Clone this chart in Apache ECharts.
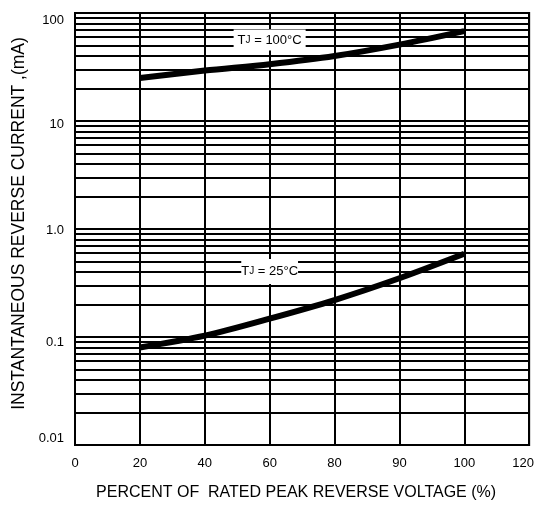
<!DOCTYPE html>
<html>
<head>
<meta charset="utf-8">
<script src="https://cdn.jsdelivr.net/npm/echarts@6/dist/echarts.min.js"></script>
<style>html,body{margin:0;padding:0;background:#fff;}#c{width:537px;height:506px;}</style>
</head>
<body>
<div id="c"></div>
<script>
// ---- data ----
var categories = ['0', '20', '40', '60', '80', '90', '100', '120'];
var tj100 = [null, 25, 29.3, 33.6, 40, 51, 68, null];
var tj25 = [null, 0.080, 0.103, 0.148, 0.22, 0.35, 0.59, null];
var yTickValues = [0.01, 0.1, 1, 10, 100];
var yTickLabels = ['0.01', '0.1', '1.0', '10', '100'];
var minorMultipliers = [2, 3, 4, 5, 6, 7, 8, 9];
var curveLabels = [
  { text: 'T{j|J} = 100°C', at: [2.7, 56.2], padding: [4, 4] },
  { text: 'T{j|J} = 25°C', at: [3.06, 0.405], padding: [6, 0] }
];

var FONT = "'Liberation Sans', Arial, Helvetica, sans-serif";
// vertical nudges of y tick labels (px, + = down)
var yLabelNudge = [-7, 5, 1, 3, 7];
var yRich = {};
yLabelNudge.forEach(function (d, i) {
  yRich['l' + i] = {
    fontFamily: FONT, fontSize: 13, color: '#000',
    padding: d >= 0 ? [2 * d, 0, 0, 0] : [0, 0, -2 * d, 0]
  };
});

var minorLines = [];
yTickValues.slice(0, -1).forEach(function (d) {
  minorMultipliers.forEach(function (m) { minorLines.push({ yAxis: m * d }); });
});

var chart = echarts.init(document.getElementById('c'), null, { renderer: 'canvas' });
var option = {
  animation: false,
  backgroundColor: '#fff',
  grid: { left: 75, right: 6, top: 13, bottom: 61, show: true, borderColor: '#000', borderWidth: 2 },
  xAxis: {
    type: 'category',
    data: categories,
    boundaryGap: false,
    name: 'PERCENT OF  RATED PEAK REVERSE VOLTAGE (%)',
    nameLocation: 'middle',
    nameGap: 40,
    nameTextStyle: { fontFamily: FONT, fontSize: 16, color: '#000', padding: [0, 12, 0, 0] },
    axisLine: { lineStyle: { color: '#000', width: 2 } },
    axisTick: { show: false },
    axisLabel: {
      interval: 0, margin: 12, color: '#000', fontFamily: FONT, fontSize: 13,
      showMinLabel: true, showMaxLabel: true, hideOverlap: false,
      formatter: function (v, i) { return i === categories.length - 1 ? '{r|' + v + '}' : v; },
      rich: { r: { fontFamily: FONT, fontSize: 13, color: '#000', padding: [0, 12, 0, 0] } }
    },
    splitLine: { show: true, interval: 0, lineStyle: { color: '#000', width: 2 } }
  },
  yAxis: {
    type: 'log',
    logBase: 10,
    min: 0.01,
    max: 100,
    interval: 1,
    name: 'INSTANTANEOUS REVERSE CURRENT ,(mA)',
    nameLocation: 'middle',
    nameGap: 46,
    nameTextStyle: { fontFamily: FONT, fontSize: 17.5, color: '#000', padding: [0, 0, 0, 11] },
    axisLine: { show: true, lineStyle: { color: '#000', width: 2 } },
    axisTick: { show: false },
    axisLabel: {
      margin: 11, color: '#000', fontFamily: FONT, fontSize: 13,
      formatter: function (v) {
        var idx = yTickValues.indexOf(Math.pow(10, Math.round(Math.log10(v))));
        return idx >= 0 ? '{l' + idx + '|' + yTickLabels[idx] + '}' : '';
      },
      rich: yRich
    },
    splitLine: { show: true, lineStyle: { color: '#000', width: 2 } }
  },
  series: [
    {
      name: 'grid', type: 'line', data: [], silent: true,
      markLine: {
        silent: true, symbol: 'none', animation: false,
        label: { show: false },
        lineStyle: { color: '#000', width: 2, type: 'solid' },
        data: minorLines
      }
    },
    {
      name: 'TJ = 100°C', type: 'line', data: tj100, smooth: 0.3, showSymbol: false,
      connectNulls: false, lineStyle: { color: '#000', width: 6 }, z: 5
    },
    {
      name: 'TJ = 25°C', type: 'line', data: tj25, smooth: 0.3, showSymbol: false,
      connectNulls: false, lineStyle: { color: '#000', width: 6 }, z: 5
    }
  ]
};
chart.setOption(option);

var gfx = curveLabels.map(function (l) {
  var p = chart.convertToPixel({ gridIndex: 0 }, l.at);
  return {
    type: 'text', x: p[0], y: p[1], z: 100,
    style: {
      text: l.text, fill: '#000', font: '13px ' + FONT,
      align: 'center', verticalAlign: 'middle',
      backgroundColor: '#fff', padding: l.padding,
      rich: { j: { fontSize: 10, fontFamily: FONT, fill: '#000' } }
    }
  };
});
chart.setOption({ graphic: gfx });
</script>
</body>
</html>
